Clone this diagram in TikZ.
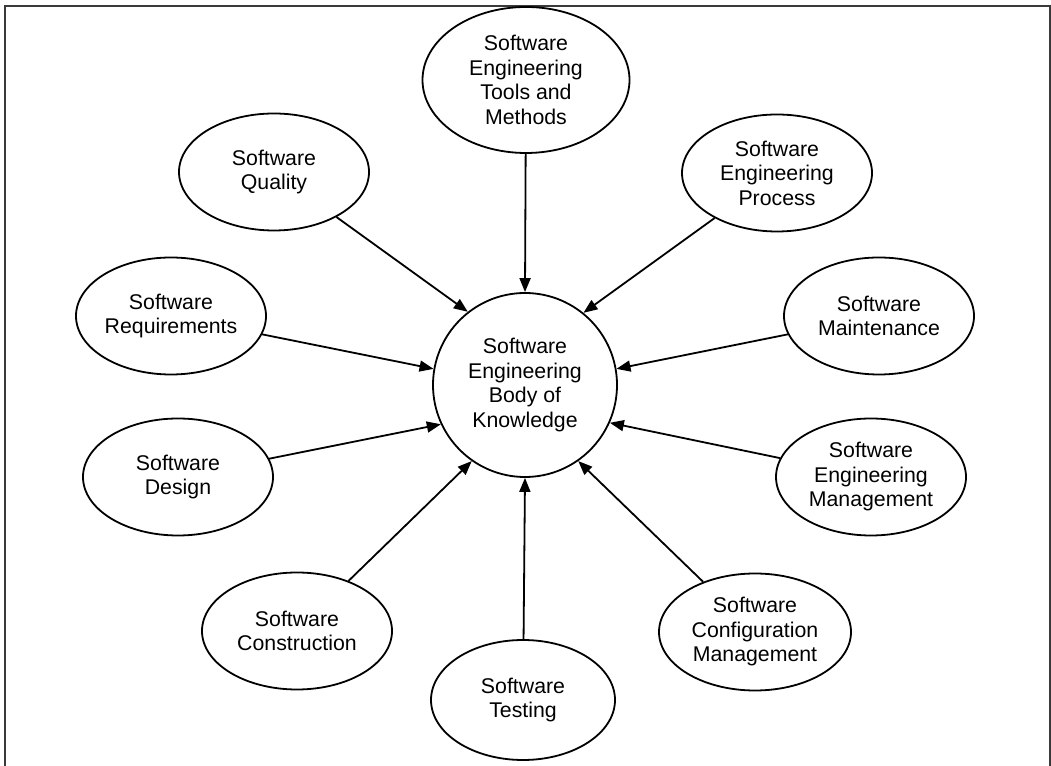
\documentclass[tikz,border=0pt]{standalone}
\usepackage{fontspec}
\setmainfont{Liberation Sans}
\usetikzlibrary{arrows.meta,shapes.geometric}
\definecolor{rim}{HTML}{3A3A3A}
\tikzset{
  bubble/.style={ellipse, draw=black, line width=1.8pt, inner sep=0pt, align=center,
                 font=\fontsize{21.3}{24.5}\selectfont, minimum width=190pt, minimum height=117pt},
  core/.style={circle, draw=black, line width=1.8pt, inner sep=0pt, align=center,
               font=\fontsize{21.3}{24.5}\selectfont, minimum size=184pt},
  arr/.style={-{Triangle[length=14pt,width=11pt]}, line width=1.8pt},
}

\begin{document}
\begin{tikzpicture}[x=1pt,y=1pt]
  \useasboundingbox (0,0) rectangle (1051,765);
  \draw[rim, line width=2pt] (5,-20) -- (5,759) -- (1050,759) -- (1050,-20);

  \node[core] (body) at (525,380) {Software\\Engineering\\Body of\\Knowledge};

  \node[bubble, minimum width=207pt, minimum height=146pt] (tools) at (526,685)
    {Software\\Engineering\\Tools and\\Methods};
  \node[bubble] (qual) at (274,593) {Software\\Quality};
  \node[bubble] (proc) at (777,592) {Software\\Engineering\\Process};
  \node[bubble] (req)  at (171,449) {Software\\Requirements};
  \node[bubble] (mnt)  at (879,449) {Software\\Maintenance};
  \node[bubble] (des)  at (178,288) {Software\\Design};
  \node[bubble] (mgt)  at (871,288) {Software\\Engineering\\Management};
  \node[bubble] (con)  at (297,134) {Software\\Construction};
  \node[bubble, minimum width=192pt] (cfg) at (755,133)
    {Software\\Configuration\\Management};
  \node[bubble, minimum width=184pt, minimum height=120pt] (tst) at (523,65)
    {Software\\Testing};

  \draw[arr] (tools) -- (body.90);
  \draw[arr] (qual) -- (body.128);
  \draw[arr] (proc) -- (body.51);
  \draw[arr] (req) -- (body.170);
  \draw[arr] (mnt) -- (body.10);
  \draw[arr] (des) -- (body.205);
  \draw[arr] (mgt) -- (body.-24);
  \draw[arr] (con) -- (body.235);
  \draw[arr] (cfg) -- (body.-55);
  \draw[arr] (tst) -- (body.-90);
\end{tikzpicture}
\end{document}
